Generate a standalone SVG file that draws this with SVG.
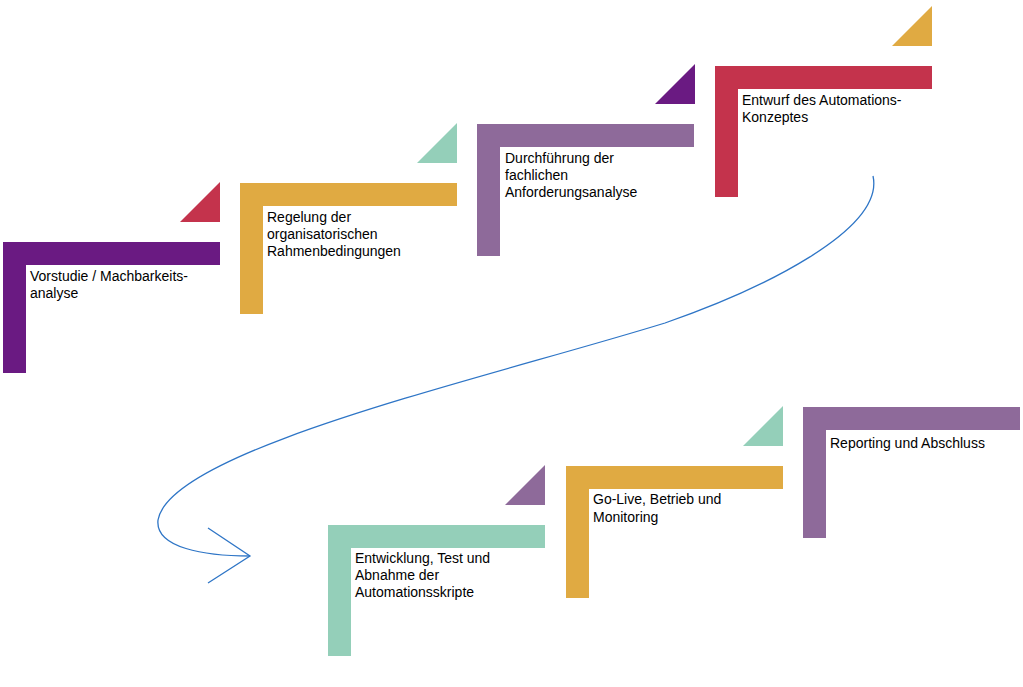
<svg xmlns="http://www.w3.org/2000/svg" width="1023" height="687" viewBox="0 0 1023 687">
<style>
text{font-family:"Liberation Sans",Arial,sans-serif;font-size:14px;fill:#000}
.pu{fill:#6A1A82}.re{fill:#C4334C}.or{fill:#E0AA42}.te{fill:#94CFB9}.mv{fill:#8E6A9A}
.con{fill:none;stroke:#2E75C6;stroke-width:1.3}
</style>
<rect width="1023" height="687" fill="#fff"/>
<g id="step1"><path class="pu" d="M3,242H220V265H26V373H3Z"/><polygon class="re" points="180,222 220,182 220,222"/>
<text x="30" y="281">Vorstudie / Machbarkeits-</text><text x="30" y="298">analyse</text></g>
<g id="step2"><path class="or" d="M240,183H457V206H263V314H240Z"/><polygon class="te" points="417,163 457,123 457,163"/>
<text x="267" y="222">Regelung der</text><text x="267" y="239">organisatorischen</text><text x="267" y="256">Rahmenbedingungen</text></g>
<g id="step3"><path class="mv" d="M477,124H694V147H500V256H477Z"/><polygon class="pu" points="655,104 695,64 695,104"/>
<text x="505" y="163">Durchführung der</text><text x="505" y="180">fachlichen</text><text x="505" y="197">Anforderungsanalyse</text></g>
<g id="step4"><path class="re" d="M715,66H932V89H738V197H715Z"/><polygon class="or" points="892,46 932,6 932,46"/>
<text x="742" y="105">Entwurf des Automations-</text><text x="742" y="122">Konzeptes</text></g>
<g id="step5"><path class="te" d="M328,525H545V548H351V656H328Z"/><polygon class="mv" points="505,505 545,465 545,505"/>
<text x="355" y="563">Entwicklung, Test und</text><text x="355" y="580">Abnahme  der</text><text x="355" y="597">Automationsskripte</text></g>
<g id="step6"><path class="or" d="M566,466H783V489H589V598H566Z"/><polygon class="te" points="743,446 783,406 783,446"/>
<text x="593" y="504">Go-Live, Betrieb und</text><text x="593" y="522">Monitoring</text></g>
<g id="step7"><path class="mv" d="M803,407H1020V430H826V538H803Z"/>
<text x="830" y="448">Reporting und Abschluss</text></g>
<g id="connectors">
<path class="con" d="M873,176C885,230 760,290 665,323C480,380 170,450 158,520C155,548 205,556 250,556"/>
<path class="con" d="M208,528L250,556L208,583"/>
</g>
</svg>
